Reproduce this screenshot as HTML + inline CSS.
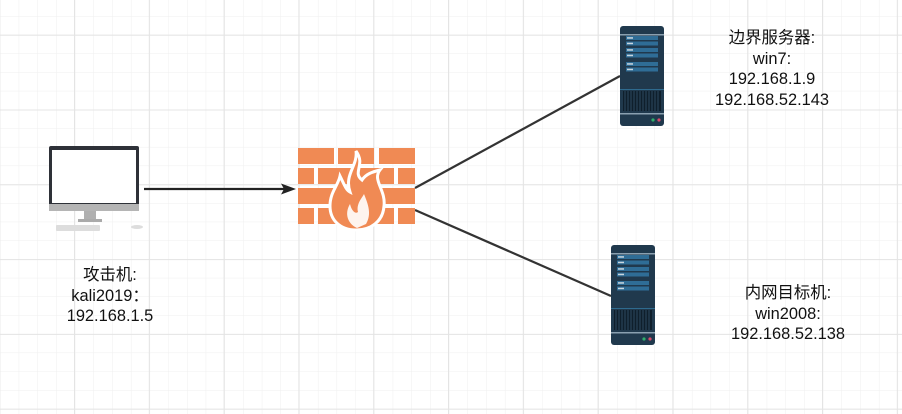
<!DOCTYPE html>
<html><head><meta charset="utf-8"><style>
html,body{margin:0;padding:0;background:#fff;}
body{width:902px;height:414px;overflow:hidden;position:relative;font-family:"Liberation Sans","Noto Sans CJK SC",sans-serif;}
.t{position:absolute;font-size:16.4px;color:#111;text-align:center;line-height:20.5px;white-space:nowrap;}
</style></head><body>
<svg width="902" height="414" style="position:absolute;left:0;top:0">
<defs>
<pattern id="g" x="0" y="-2.7" width="18.7" height="18.7" patternUnits="userSpaceOnUse">
<path d="M0 0V18.7M0 0H18.7" stroke="#efefef" stroke-width="1" fill="none"/></pattern>
<pattern id="G" x="-0.8" y="-2.7" width="74.8" height="74.8" patternUnits="userSpaceOnUse">
<path d="M0.5 0V74.8M0 37.9H74.8" stroke="#e4e4e4" stroke-width="1" fill="none"/></pattern>
<g id="srv">
<rect x="0" y="0" width="44" height="100" rx="3" fill="#20394d"/>
<rect x="0" y="8" width="44" height="1.5" fill="#8aa0b0"/>
<g fill="#2f6d96"><rect x="6" y="10" width="32" height="4"/><rect x="6" y="15.5" width="32" height="4"/><rect x="6" y="22" width="32" height="4"/><rect x="6" y="27.5" width="32" height="4"/><rect x="6" y="36" width="32" height="4"/><rect x="6" y="41.5" width="32" height="4"/></g>
<g fill="#c9d6df"><rect x="7" y="11.2" width="6" height="1.5"/><rect x="7" y="16.7" width="6" height="1.5"/><rect x="7" y="23.2" width="6" height="1.5"/><rect x="7" y="28.7" width="6" height="1.5"/><rect x="7" y="37.2" width="6" height="1.5"/><rect x="7" y="42.7" width="6" height="1.5"/></g>
<rect x="0" y="63" width="44" height="1" fill="#2e6a8e"/>
<rect x="3" y="65" width="38" height="20" fill="#0f1f2c"/>
<g stroke="#2c4a60" stroke-width="1">
<path d="M5 65V85M8 65V85M11 65V85M14 65V85M17 65V85M20 65V85M23 65V85M26 65V85M29 65V85M32 65V85M35 65V85M38 65V85"/></g>
<rect x="0" y="87" width="44" height="1.5" fill="#8aa0b0"/>
<circle cx="33" cy="94" r="1.6" fill="#2fae6a"/><circle cx="39" cy="94" r="1.6" fill="#d84a6a"/>
</g>
</defs>
<rect width="902" height="414" fill="url(#g)"/>
<rect width="902" height="414" fill="url(#G)"/>
<!-- monitor -->
<rect x="49" y="146" width="90" height="64" rx="2" fill="#2e3138"/>
<rect x="52" y="150" width="84" height="53" fill="#fff"/>
<rect x="49" y="203" width="90" height="8" fill="#b5b5b5"/>
<rect x="49" y="203" width="90" height="1" fill="#2e3138"/>
<rect x="84" y="211" width="12" height="8" fill="#b0b0b0"/>
<rect x="78" y="219" width="24" height="3" fill="#aaa"/>
<rect x="56" y="225" width="44" height="6" rx="1" fill="#ddd"/>
<ellipse cx="137" cy="227" rx="6" ry="2" fill="#ddd"/>
<!-- arrow -->
<line x1="144" y1="189" x2="284" y2="189" stroke="#222" stroke-width="2.2"/>
<polygon points="296,189 281,183.5 284,189 281,194.5" fill="#222"/>
<line x1="415" y1="188" x2="620" y2="76" stroke="#333" stroke-width="2.2"/>
<line x1="415" y1="210" x2="611" y2="296" stroke="#333" stroke-width="2.2"/>
<!-- firewall -->
<g fill="#f08a54">
<rect x="298" y="148" width="36" height="16"/><rect x="338" y="148" width="36" height="16"/><rect x="379" y="148" width="36" height="16"/>
<rect x="298" y="168" width="16" height="16"/><rect x="318" y="168" width="36" height="16"/><rect x="358" y="168" width="36" height="16"/><rect x="398" y="168" width="17" height="16"/>
<rect x="298" y="188" width="36" height="16"/><rect x="338" y="188" width="36" height="16"/><rect x="379" y="188" width="36" height="16"/>
<rect x="298" y="208" width="16" height="16"/><rect x="318" y="208" width="36" height="16"/><rect x="358" y="208" width="36" height="16"/><rect x="398" y="208" width="17" height="16"/>
</g>
<path d="M356 151 C366 165 352 172 362 180 C366 174 372 172 380 170 C372 180 386 190 384 206 C383 222 370 230 356 230 C340 230 330 220 330 206 C330 192 338 186 340 176 C344 184 346 190 350 192 C344 174 358 166 356 151 Z" fill="#f08a54" stroke="#fff" stroke-width="3"/>
<path d="M357 228 C348 224 344 214 350 204 C352 212 356 214 358 212 C356 204 362 198 364 194 C368 204 372 214 366 224 Z" fill="#fff" opacity="0.9"/>
<use href="#srv" x="620" y="26"/>
<use href="#srv" x="611" y="245"/>
</svg>
<div class="t" style="left:55px;top:265px;width:110px">攻击机:<br>kali2019：<br>192.168.1.5</div>
<div class="t" style="left:707px;top:28px;width:130px">边界服务器:<br>win7:<br>192.168.1.9<br>192.168.52.143</div>
<div class="t" style="left:718px;top:283px;width:140px">内网目标机:<br>win2008:<br>192.168.52.138</div>
</body></html>
